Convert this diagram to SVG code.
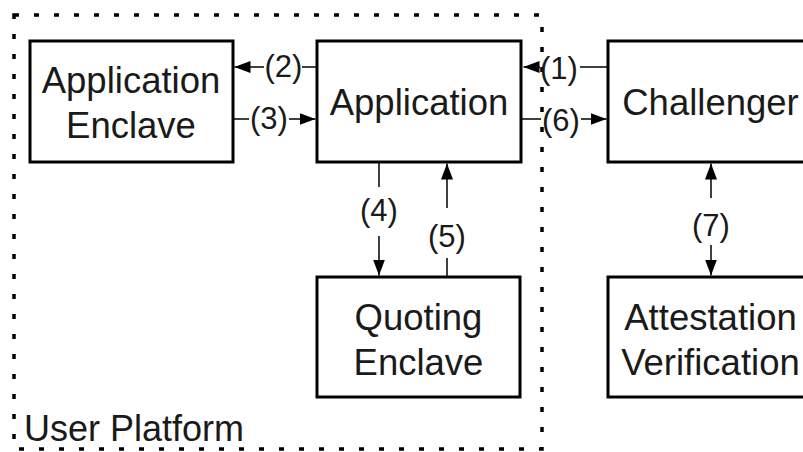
<svg xmlns="http://www.w3.org/2000/svg" width="803" height="452" viewBox="0 0 803 452">
  <defs>
    <marker id="arr" markerUnits="userSpaceOnUse" markerWidth="16" markerHeight="12" refX="16" refY="6" orient="auto">
      <path d="M0,0 L16,6 L0,12 z" fill="#000"/>
    </marker>
    <style>
      .box { fill: #fff; stroke: #000; stroke-width: 3; }
      .node { font-family: "Liberation Sans", Arial, Helvetica, sans-serif; font-size: 36.5px; fill: #1a1a1a; text-anchor: middle; }
      .lbl { font-family: "Liberation Sans", Arial, Helvetica, sans-serif; font-size: 31px; fill: #1a1a1a; text-anchor: middle; }
      .conn { stroke: #000; stroke-width: 1.5; fill: none; }
      .border { fill: none; stroke: #000; stroke-width: 3.5; stroke-dasharray: 5 15; }
    </style>
  </defs>
  <rect width="803" height="452" fill="#fff"/>

  <g id="user-platform">
    <rect class="border" x="14" y="15" width="528" height="434"/>
    <text x="24" y="441" font-family="Liberation Sans, Arial, sans-serif" font-size="36px" fill="#1a1a1a">User Platform</text>
  </g>

  <g id="application-enclave">
    <rect class="box" x="30" y="41" width="203" height="121"/>
    <text class="node" x="131" y="93">Application</text>
    <text class="node" x="131" y="138">Enclave</text>
  </g>

  <g id="application">
    <rect class="box" x="317" y="41" width="204" height="121"/>
    <text class="node" x="419" y="115">Application</text>
  </g>

  <g id="challenger">
    <rect class="box" x="608" y="41" width="205" height="121"/>
    <text class="node" x="710.5" y="115">Challenger</text>
  </g>

  <g id="quoting-enclave">
    <rect class="box" x="317" y="277" width="203" height="120"/>
    <text class="node" x="418.5" y="330">Quoting</text>
    <text class="node" x="418.5" y="375">Enclave</text>
  </g>

  <g id="attestation-verification">
    <rect class="box" x="608" y="277" width="205" height="120"/>
    <text class="node" x="710.5" y="330">Attestation</text>
    <text class="node" x="710.5" y="375">Verification</text>
  </g>

  <g id="connectors">
    <!-- (1) Challenger -> Application -->
    <path class="conn" d="M607,67 H580"/>
    <path class="conn" d="M540,67 H523.5" marker-end="url(#arr)"/>
    <text class="lbl" x="559" y="79">(1)</text>
    <!-- (2) Application -> Application Enclave -->
    <path class="conn" d="M316,67 H302"/>
    <path class="conn" d="M264,67 H234.5" marker-end="url(#arr)"/>
    <text class="lbl" x="283.5" y="77">(2)</text>
    <!-- (3) Application Enclave -> Application -->
    <path class="conn" d="M234,119 H249"/>
    <path class="conn" d="M289,119 H315.5" marker-end="url(#arr)"/>
    <text class="lbl" x="269" y="129">(3)</text>
    <!-- (4) Application -> Quoting Enclave -->
    <path class="conn" d="M379,163 V187"/>
    <path class="conn" d="M379,236 V275.5" marker-end="url(#arr)"/>
    <text class="lbl" x="379" y="221">(4)</text>
    <!-- (5) Quoting Enclave -> Application -->
    <path class="conn" d="M447,276 V258"/>
    <path class="conn" d="M447,208 V163.5" marker-end="url(#arr)"/>
    <text class="lbl" x="447" y="247">(5)</text>
    <!-- (6) Application -> Challenger -->
    <path class="conn" d="M522,119 H541"/>
    <path class="conn" d="M581,119 H606.5" marker-end="url(#arr)"/>
    <text class="lbl" x="561" y="131">(6)</text>
    <!-- (7) Challenger <-> Attestation Verification -->
    <path class="conn" d="M711,198 V163.5" marker-end="url(#arr)"/>
    <path class="conn" d="M711,245 V275.5" marker-end="url(#arr)"/>
    <text class="lbl" x="711" y="236">(7)</text>
  </g>
</svg>
